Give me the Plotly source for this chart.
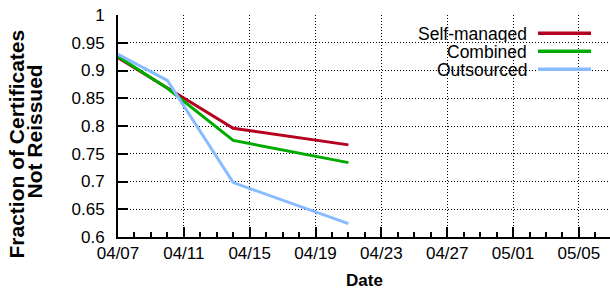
import plotly.graph_objects as go
import pandas as pd

# ---- data ----
dates = ["2014-04-07", "2014-04-10", "2014-04-14", "2014-04-21"]
series_names = ["Self-managed", "Combined", "Outsourced"]
self_managed = [0.923, 0.869, 0.796, 0.766]
combined = [0.925, 0.868, 0.774, 0.734]
outsourced = [0.929, 0.882, 0.698, 0.624]
y_tick_vals = [0.6, 0.65, 0.7, 0.75, 0.8, 0.85, 0.9, 0.95, 1.0]
y_tick_text = ["0.6", "0.65", "0.7", "0.75", "0.8", "0.85", "0.9", "0.95", "1"]
x_title = "Date"
y_title_lines = ["Fraction of Certificates", "Not Reissued"]

colors = ["#b5001f", "#00aa00", "#88bbff"]
values = [self_managed, combined, outsourced]

W, H = 610, 289
L, R, T, B = 118, 0, 15, 52
pw, ph = W - L - R, H - T - B
FONT = "Liberation Sans, Arial, Helvetica, sans-serif"

def px(xp):
    return (xp - L) / pw

def py(yp):
    return (H - B - yp) / ph

fig = go.Figure()
for name, vals, c in zip(series_names, values, colors):
    fig.add_trace(go.Scatter(x=dates, y=vals, mode="lines", name=name,
                             line=dict(color=c, width=3), showlegend=False))

x_start = pd.Timestamp("2014-04-07")
x_end = x_start + pd.Timedelta(days=29.89)

day_ms = 86400000
fig.update_xaxes(
    type="date", range=[x_start, x_end],
    tick0="2014-04-07", dtick=4 * day_ms, tickformat="%m/%d",
    ticks="inside", ticklen=10, tickwidth=1.5, tickcolor="black",
    minor=dict(dtick=day_ms, ticks="inside", ticklen=5, tickwidth=1.5, tickcolor="black", showgrid=False),
    showline=True, linecolor="black", linewidth=2,
    showgrid=True, gridcolor="black", gridwidth=1, griddash="1px,2px",
    zeroline=False, tickfont=dict(family=FONT, size=17, color="black"),
    ticklabelstandoff=0,
)
fig.update_yaxes(
    range=[0.6, 1.0], tickvals=y_tick_vals, ticktext=y_tick_text,
    ticks="inside", ticklen=10, tickwidth=1.5, tickcolor="black",
    showline=True, linecolor="black", linewidth=2,
    showgrid=True, gridcolor="black", gridwidth=1, griddash="1px,2px",
    zeroline=False, tickfont=dict(family=FONT, size=17, color="black"),
    ticklabelstandoff=8,
)

shapes = [dict(type="rect", xref="paper", yref="paper", x0=px(400), x1=px(602),
               y0=py(77), y1=py(25), fillcolor="white", line=dict(width=0), layer="between")]
annotations = []
rows = [33.3, 51.3, 69.3]
for name, c, ry in zip(series_names, colors, rows):
    shapes.append(dict(type="line", xref="paper", yref="paper", x0=px(538), x1=px(591),
                       y0=py(ry), y1=py(ry), line=dict(color=c, width=3.5)))
    annotations.append(dict(text=name, xref="paper", yref="paper", x=px(528), y=py(ry),
                            xanchor="right", yanchor="middle", showarrow=False, borderpad=0,
                            height=17, valign="middle",
                            font=dict(family=FONT, size=17.5, color="black")))

annotations.append(dict(text="<b>%s</b>" % x_title, xref="paper", yref="paper", x=0.5, y=py(280.5),
                        xanchor="center", yanchor="middle", showarrow=False, borderpad=0,
                        height=13, valign="middle",
                        font=dict(family=FONT, size=17, color="black")))
for line_text, cx, cy in zip(y_title_lines, [16, 34], [144.5, 131.5]):
    annotations.append(dict(text="<b>%s</b>" % line_text, xref="paper", yref="paper",
                            x=px(cx), y=py(cy), xanchor="center", yanchor="middle",
                            textangle=-90, showarrow=False, borderpad=0,
                            font=dict(family=FONT, size=21, color="black")))

fig.update_layout(
    width=W, height=H, margin=dict(l=L, r=R, t=T, b=B),
    plot_bgcolor="white", paper_bgcolor="white",
    shapes=shapes, annotations=annotations, showlegend=False,
)
fig.write_html("out.html", config={"displayModeBar": False},
               post_script="document.body.style.margin='0';document.body.style.overflow='hidden';")
